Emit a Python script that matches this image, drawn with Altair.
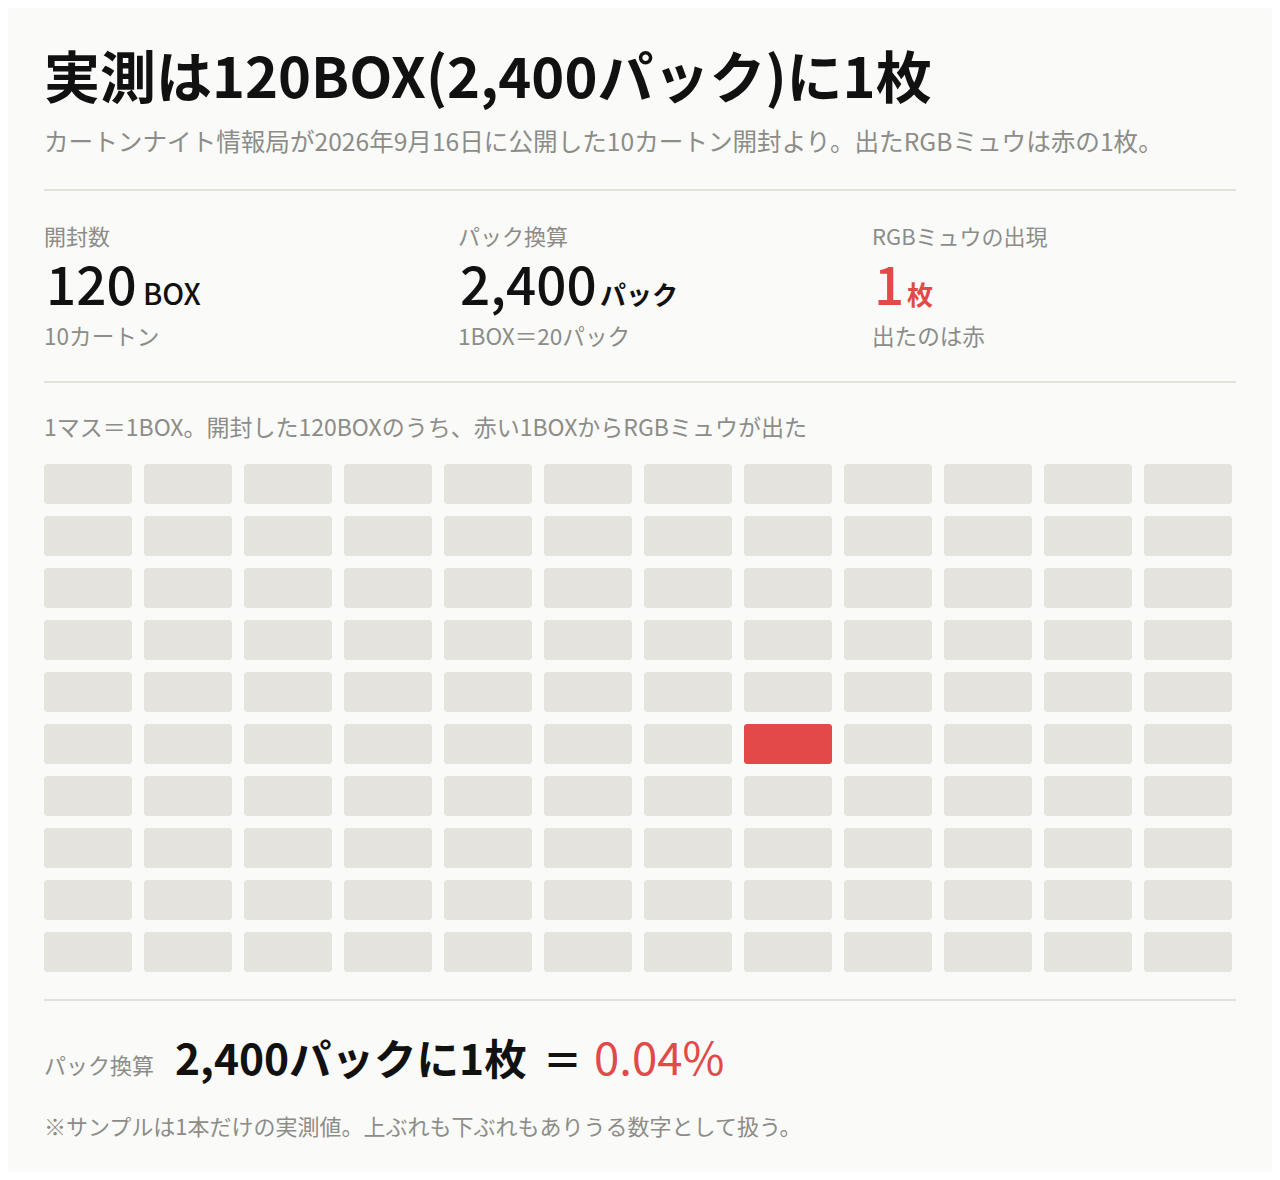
import altair as alt
import pandas as pd

# ---- data ----
TITLE = "実測は120BOX(2,400パック)に1枚"
SUBTITLE = "カートンナイト情報局が2026年9月16日に公開した10カートン開封より。出たRGBミュウは赤の1枚。"
stat_labels = ["開封数", "パック換算", "RGBミュウの出現"]
stat_values = ["120", "2,400", "1"]
stat_units = ["BOX", "パック", "枚"]
stat_notes = ["10カートン", "1BOX＝20パック", "出たのは赤"]
GRID_CAPTION = "1マス＝1BOX。開封した120BOXのうち、赤い1BOXからRGBミュウが出た"
N_COLS = 12
N_ROWS = 10
HIT_BOX = 68  # 1-based box number that yielded the card
BOTTOM_LABEL = "パック換算"
BOTTOM_MAIN = "2,400パックに1枚"
BOTTOM_EQ = "＝"
BOTTOM_RATE = "0.04%"
FOOTNOTE = "※サンプルは1本だけの実測値。上ぶれも下ぶれもありうる数字として扱う。"

# ---- styles ----
FONT = "Noto Sans CJK JP"
BG = "#FAFAF8"
CELL = "#E4E3DD"
RED = "#E24A4A"
INK = "#111111"
GRAY = "#8C8C88"
RULE = "#E2E1DA"
OX, OY = 8, 8  # page margin

boxes = list(range(1, N_COLS * N_ROWS + 1))
grid_df = pd.DataFrame({
    "box": boxes,
    "col": [(b - 1) % N_COLS for b in boxes],
    "row": [(b - 1) // N_COLS for b in boxes],
    "state": ["hit" if b == HIT_BOX else "miss" for b in boxes],
})

grid = alt.Chart(grid_df).mark_rect(cornerRadius=3).encode(
    x=alt.X("col:O", axis=None,
            scale=alt.Scale(range=[44 - OX, 1232 - OX], paddingInner=0.12, paddingOuter=0)),
    y=alt.Y("row:O", axis=None,
            scale=alt.Scale(range=[464 - OY, 972 - OY], paddingInner=12 / 52, paddingOuter=0)),
    color=alt.Color("state:N", legend=None,
                    scale=alt.Scale(domain=["miss", "hit"], range=[CELL, RED])),
)


def txt(s, x, y, size, color=INK, weight="normal"):
    return alt.Chart(pd.DataFrame({"t": [s]})).mark_text(
        align="left", baseline="alphabetic", font=FONT, fontSize=size,
        fontWeight=weight, color=color,
    ).encode(text="t:N", x=alt.value(x - OX), y=alt.value(y - OY))


def rule(y):
    return alt.Chart(alt.Data(values=[{}])).mark_rule(
        color=RULE, strokeWidth=2
    ).encode(x=alt.value(44 - OX), x2=alt.value(1236 - OX), y=alt.value(y - OY))


layers = [
    txt(TITLE, 44, 98, 56, INK, "bold"),
    txt(SUBTITLE, 44, 151, 24.6, GRAY),
    rule(190),
]

col_x = [44, 458, 872]
unit_x = [143, 600, 907]
for i in range(3):
    vcolor = RED if i == 2 else INK
    layers.append(txt(stat_labels[i], col_x[i], 245, 22, GRAY))
    layers.append(txt(stat_values[i], col_x[i] + 2, 305, 53, vcolor, 500))
    layers.append(txt(stat_units[i], unit_x[i], 305, 29 if i == 0 else 26, vcolor, "bold" if i else 500))
    layers.append(txt(stat_notes[i], col_x[i], 345, 22.6, GRAY))

layers += [
    rule(382),
    txt(GRID_CAPTION, 44, 436, 23, GRAY),
    grid,
    rule(1000),
    txt(BOTTOM_LABEL, 44, 1074, 22, GRAY),
    txt(BOTTOM_MAIN, 175, 1075, 42.5, INK, "bold"),
    txt(BOTTOM_EQ, 543, 1075, 39, INK, "bold"),
    txt(BOTTOM_RATE, 594, 1075, 45.5, RED),
    txt(FOOTNOTE, 44, 1135, 22, GRAY),
]

chart = alt.layer(*layers).properties(
    width=1264, height=1164, background=BG, padding=0,
    autosize=alt.AutoSizeParams(type="none"),
).configure_view(stroke=None)

chart.save("out.html", embed_options={"renderer": "svg", "actions": False})
